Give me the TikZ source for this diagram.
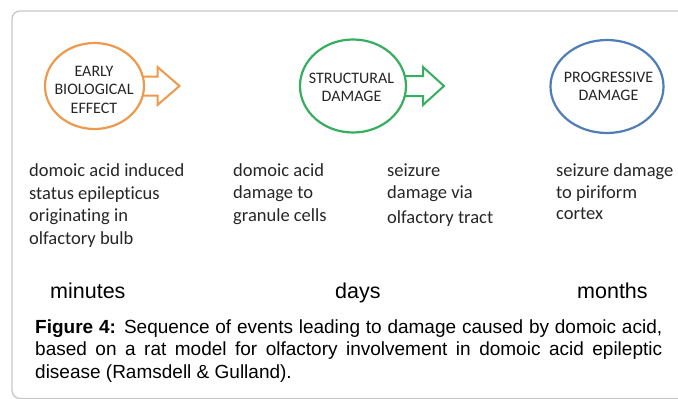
\documentclass[tikz,border=0pt]{standalone}
\usepackage{fontspec}
\setmainfont{Carlito}[Ligatures=NoCommon, RawFeature={-calt,-dlig}]
\newfontfamily\capfont{Liberation Sans}
\usetikzlibrary{shapes.geometric}
\definecolor{frameGray}{HTML}{C8C8C8}
\definecolor{oran}{HTML}{EE9A4E}
\definecolor{gree}{HTML}{35AE5E}
\definecolor{blu}{HTML}{4F7DB8}
\definecolor{txt}{HTML}{262626}
\newcommand{\nolig}{\kern0pt{}}
\begin{document}
\begin{tikzpicture}[x=1pt,y=-1pt,
  bubble/.style={ellipse, draw, line width=2.2pt, inner sep=0pt, outer sep=0pt},
  bubbletext/.style={anchor=north, inner sep=0pt, align=center, text=txt, font=\fontsize{16}{18.5}\selectfont},
  body/.style={anchor=north west, inner sep=0pt, align=left, text=txt, font=\fontsize{18.5}{22.5}\selectfont},
  timetext/.style={anchor=base west, inner sep=0pt, text=black, font=\capfont\fontsize{21.5}{25}\selectfont},
  captext/.style={anchor=base west, inner sep=0pt, text=black, font=\capfont\fontsize{19}{22.5}\selectfont},
  blockarrow/.style={line width=2pt, line join=miter}]
\useasboundingbox (0,0) rectangle (678,399);
\begin{scope}
  \clip (0,0) rectangle (678,399);
  \fill[white] (0,0) rectangle (678,399);
  \draw[frameGray, line width=1.3pt, rounded corners=8pt] (12,11) rectangle (720,398.5);
\end{scope}

% bubbles
\node[bubble, draw=oran, minimum width=99pt, minimum height=86pt] (e1) at (94.5,86) {};
\node[bubble, draw=gree, minimum width=106pt, minimum height=93pt] (e2) at (353,86) {};
\node[bubble, draw=blu, minimum width=113pt, minimum height=93pt] (e3) at (607,86.5) {};

% block arrows
\draw[oran, blockarrow] ([shift={(-1.5,-9.5)}]e1.east) -- ++(15,0) -- ++(0,-9.5) -- ++(22,19) -- ++(-22,19) -- ++(0,-9.5) -- ++(-15,0);
\draw[gree, blockarrow] ([shift={(-1.5,-10)}]e2.east) -- ++(18.5,0) -- ++(0,-9) -- ++(21,19) -- ++(-21,19) -- ++(0,-9) -- ++(-18.5,0);

% bubble texts
\node[bubbletext] (t1) at (94,63.05) {\strut EARLY\\BIOLOGICAL\\EFFECT};
\node[bubbletext] (t2) at (351.5,70.05) {\strut STRUCTURAL\\DAMAGE};
\node[bubbletext] (t3) at (608.5,69.05) {\strut PROGRESSIVE\\DAMAGE};

% descriptions
\node[body] (d1) at (29,160.75) {\strut domoic acid induced\\status epilept\nolig icus\\originat\nolig ing in\\olfactory bulb};
\node[body] (d2) at (233,160.25) {\strut domoic acid\\damage to\\granule cells};
\node[body] (d3) at (387,160.25) {\strut seizure\\damage via\\[2.5pt]olfactory tract};
\node[body] (d4) at (556,160.25) {\strut seizure damage\\to piriform\\[-2pt]cortex};

% time scale
\node[timetext] (m1) at (50,298) {minutes};
\node[timetext] (m2) at (335,298) {days};
\node[timetext] (m3) at (577,298) {months};

% caption
\node[captext] (c1) at (35,333) {\makebox[627pt][s]{\textbf{Figure 4:} Sequence of events leading to damage caused by domoic acid,}};
\node[captext] (c2) at (35,355.5) {\makebox[627pt][s]{based on a rat model for olfactory involvement in domoic acid epileptic}};
\node[captext] (c3) at (35,378) {disease (Ramsdell \& Gulland).};
\end{tikzpicture}
\end{document}
